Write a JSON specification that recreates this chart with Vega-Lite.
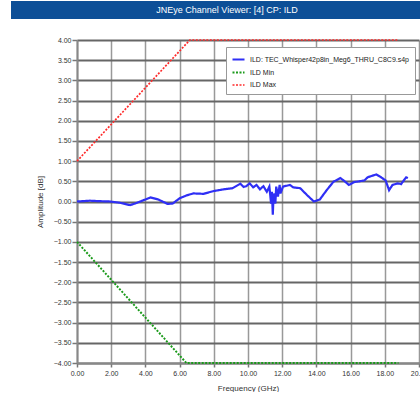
{
  "$schema": "https://vega.github.io/schema/vega-lite/v6.json",
  "padding": {"left": 11, "top": 1, "right": 0, "bottom": 0},
  "background": "white",
  "bounds": "flush",
  "center": true,
  "spacing": 21,
  "config": {
    "font": "Liberation Sans",
    "view": {"stroke": null},
    "axis": {
      "labelFont": "Liberation Sans",
      "titleFont": "Liberation Sans",
      "labelFontSize": 7,
      "titleFontSize": 8,
      "titleFontWeight": "normal",
      "labelColor": "#333",
      "titleColor": "#333",
      "domainColor": "#888",
      "domainWidth": 2,
      "tickColor": "#777",
      "tickWidth": 1.5
    }
  },
  "vconcat": [
    {
      "width": 474,
      "height": 18,
      "view": {"fill": "#0d4f97", "stroke": null},
      "data": {"values": [{"t": "JNEye Channel Viewer: [4] CP: ILD"}]},
      "mark": {"type": "text", "color": "white", "fontSize": 9, "font": "Liberation Sans", "dx": -21, "baseline": "middle"},
      "encoding": {"text": {"field": "t"}}
    },
    {
      "width": 342,
      "height": 323,
      "data": {"values": [
        {"series": "ILD Max", "f": 0, "v": 1},
        {"series": "ILD Max", "f": 6.6, "v": 4},
        {"series": "ILD Max", "f": 18.8, "v": 4},
        {"series": "ILD Min", "f": 0, "v": -1},
        {"series": "ILD Min", "f": 6.4, "v": -4},
        {"series": "ILD Min", "f": 18.8, "v": -4},
        {"series": "ILD: TEC_Whisper42p8in_Meg6_THRU_C8C9.s4p", "f": 0, "v": 0},
        {"series": "ILD: TEC_Whisper42p8in_Meg6_THRU_C8C9.s4p", "f": 0.4, "v": 0.01},
        {"series": "ILD: TEC_Whisper42p8in_Meg6_THRU_C8C9.s4p", "f": 0.76, "v": 0.02},
        {"series": "ILD: TEC_Whisper42p8in_Meg6_THRU_C8C9.s4p", "f": 1.2, "v": 0.01},
        {"series": "ILD: TEC_Whisper42p8in_Meg6_THRU_C8C9.s4p", "f": 1.93, "v": 0.0},
        {"series": "ILD: TEC_Whisper42p8in_Meg6_THRU_C8C9.s4p", "f": 2.5, "v": -0.03},
        {"series": "ILD: TEC_Whisper42p8in_Meg6_THRU_C8C9.s4p", "f": 3.1, "v": -0.09},
        {"series": "ILD: TEC_Whisper42p8in_Meg6_THRU_C8C9.s4p", "f": 3.4, "v": -0.05},
        {"series": "ILD: TEC_Whisper42p8in_Meg6_THRU_C8C9.s4p", "f": 3.7, "v": 0.0},
        {"series": "ILD: TEC_Whisper42p8in_Meg6_THRU_C8C9.s4p", "f": 4.3, "v": 0.1},
        {"series": "ILD: TEC_Whisper42p8in_Meg6_THRU_C8C9.s4p", "f": 4.75, "v": 0.05},
        {"series": "ILD: TEC_Whisper42p8in_Meg6_THRU_C8C9.s4p", "f": 5.3, "v": -0.06},
        {"series": "ILD: TEC_Whisper42p8in_Meg6_THRU_C8C9.s4p", "f": 5.6, "v": -0.05},
        {"series": "ILD: TEC_Whisper42p8in_Meg6_THRU_C8C9.s4p", "f": 6.0, "v": 0.08},
        {"series": "ILD: TEC_Whisper42p8in_Meg6_THRU_C8C9.s4p", "f": 6.4, "v": 0.15},
        {"series": "ILD: TEC_Whisper42p8in_Meg6_THRU_C8C9.s4p", "f": 6.8, "v": 0.2},
        {"series": "ILD: TEC_Whisper42p8in_Meg6_THRU_C8C9.s4p", "f": 7.4, "v": 0.19},
        {"series": "ILD: TEC_Whisper42p8in_Meg6_THRU_C8C9.s4p", "f": 8.0, "v": 0.26},
        {"series": "ILD: TEC_Whisper42p8in_Meg6_THRU_C8C9.s4p", "f": 8.55, "v": 0.3},
        {"series": "ILD: TEC_Whisper42p8in_Meg6_THRU_C8C9.s4p", "f": 9.1, "v": 0.33},
        {"series": "ILD: TEC_Whisper42p8in_Meg6_THRU_C8C9.s4p", "f": 9.55, "v": 0.44},
        {"series": "ILD: TEC_Whisper42p8in_Meg6_THRU_C8C9.s4p", "f": 9.75, "v": 0.36},
        {"series": "ILD: TEC_Whisper42p8in_Meg6_THRU_C8C9.s4p", "f": 9.9, "v": 0.38},
        {"series": "ILD: TEC_Whisper42p8in_Meg6_THRU_C8C9.s4p", "f": 10.1, "v": 0.45},
        {"series": "ILD: TEC_Whisper42p8in_Meg6_THRU_C8C9.s4p", "f": 10.3, "v": 0.35},
        {"series": "ILD: TEC_Whisper42p8in_Meg6_THRU_C8C9.s4p", "f": 10.5, "v": 0.41},
        {"series": "ILD: TEC_Whisper42p8in_Meg6_THRU_C8C9.s4p", "f": 10.7, "v": 0.3},
        {"series": "ILD: TEC_Whisper42p8in_Meg6_THRU_C8C9.s4p", "f": 10.9, "v": 0.38},
        {"series": "ILD: TEC_Whisper42p8in_Meg6_THRU_C8C9.s4p", "f": 11.1, "v": 0.24},
        {"series": "ILD: TEC_Whisper42p8in_Meg6_THRU_C8C9.s4p", "f": 11.25, "v": 0.37},
        {"series": "ILD: TEC_Whisper42p8in_Meg6_THRU_C8C9.s4p", "f": 11.35, "v": -0.05},
        {"series": "ILD: TEC_Whisper42p8in_Meg6_THRU_C8C9.s4p", "f": 11.4, "v": 0.24},
        {"series": "ILD: TEC_Whisper42p8in_Meg6_THRU_C8C9.s4p", "f": 11.45, "v": -0.33},
        {"series": "ILD: TEC_Whisper42p8in_Meg6_THRU_C8C9.s4p", "f": 11.5, "v": 0.2},
        {"series": "ILD: TEC_Whisper42p8in_Meg6_THRU_C8C9.s4p", "f": 11.6, "v": -0.05},
        {"series": "ILD: TEC_Whisper42p8in_Meg6_THRU_C8C9.s4p", "f": 11.65, "v": 0.37},
        {"series": "ILD: TEC_Whisper42p8in_Meg6_THRU_C8C9.s4p", "f": 11.75, "v": 0.12},
        {"series": "ILD: TEC_Whisper42p8in_Meg6_THRU_C8C9.s4p", "f": 11.85, "v": 0.41},
        {"series": "ILD: TEC_Whisper42p8in_Meg6_THRU_C8C9.s4p", "f": 11.9, "v": 0.2},
        {"series": "ILD: TEC_Whisper42p8in_Meg6_THRU_C8C9.s4p", "f": 12.05, "v": 0.37},
        {"series": "ILD: TEC_Whisper42p8in_Meg6_THRU_C8C9.s4p", "f": 12.45, "v": 0.41},
        {"series": "ILD: TEC_Whisper42p8in_Meg6_THRU_C8C9.s4p", "f": 12.65, "v": 0.35},
        {"series": "ILD: TEC_Whisper42p8in_Meg6_THRU_C8C9.s4p", "f": 13.05, "v": 0.33},
        {"series": "ILD: TEC_Whisper42p8in_Meg6_THRU_C8C9.s4p", "f": 13.45, "v": 0.16},
        {"series": "ILD: TEC_Whisper42p8in_Meg6_THRU_C8C9.s4p", "f": 13.85, "v": 0.0},
        {"series": "ILD: TEC_Whisper42p8in_Meg6_THRU_C8C9.s4p", "f": 14.2, "v": 0.05},
        {"series": "ILD: TEC_Whisper42p8in_Meg6_THRU_C8C9.s4p", "f": 14.6, "v": 0.28},
        {"series": "ILD: TEC_Whisper42p8in_Meg6_THRU_C8C9.s4p", "f": 15.0, "v": 0.49},
        {"series": "ILD: TEC_Whisper42p8in_Meg6_THRU_C8C9.s4p", "f": 15.4, "v": 0.58},
        {"series": "ILD: TEC_Whisper42p8in_Meg6_THRU_C8C9.s4p", "f": 15.6, "v": 0.52},
        {"series": "ILD: TEC_Whisper42p8in_Meg6_THRU_C8C9.s4p", "f": 15.9, "v": 0.41},
        {"series": "ILD: TEC_Whisper42p8in_Meg6_THRU_C8C9.s4p", "f": 16.2, "v": 0.48},
        {"series": "ILD: TEC_Whisper42p8in_Meg6_THRU_C8C9.s4p", "f": 16.8, "v": 0.52},
        {"series": "ILD: TEC_Whisper42p8in_Meg6_THRU_C8C9.s4p", "f": 17.0, "v": 0.6},
        {"series": "ILD: TEC_Whisper42p8in_Meg6_THRU_C8C9.s4p", "f": 17.5, "v": 0.67},
        {"series": "ILD: TEC_Whisper42p8in_Meg6_THRU_C8C9.s4p", "f": 17.75, "v": 0.61},
        {"series": "ILD: TEC_Whisper42p8in_Meg6_THRU_C8C9.s4p", "f": 18.05, "v": 0.52},
        {"series": "ILD: TEC_Whisper42p8in_Meg6_THRU_C8C9.s4p", "f": 18.25, "v": 0.28},
        {"series": "ILD: TEC_Whisper42p8in_Meg6_THRU_C8C9.s4p", "f": 18.45, "v": 0.41},
        {"series": "ILD: TEC_Whisper42p8in_Meg6_THRU_C8C9.s4p", "f": 18.75, "v": 0.45},
        {"series": "ILD: TEC_Whisper42p8in_Meg6_THRU_C8C9.s4p", "f": 18.95, "v": 0.43},
        {"series": "ILD: TEC_Whisper42p8in_Meg6_THRU_C8C9.s4p", "f": 19.25, "v": 0.6},
        {"series": "ILD: TEC_Whisper42p8in_Meg6_THRU_C8C9.s4p", "f": 19.35, "v": 0.58}
      ]},
      "mark": {"type": "line", "strokeCap": "butt"},
      "encoding": {
        "x": {
          "field": "f", "type": "quantitative",
          "scale": {"domain": [0, 20], "nice": false, "zero": false},
          "axis": {
            "title": "Frequency (GHz)", "values": [0, 2, 4, 6, 8, 10, 12, 14, 16, 18, 20],
            "format": ".2f", "grid": true, "gridColor": "#999", "gridWidth": 1.5,
            "tickSize": 4, "labelPadding": 2, "titlePadding": 8, "labelFlush": false
          }
        },
        "y": {
          "field": "v", "type": "quantitative",
          "scale": {"domain": [-4, 4], "nice": false, "zero": false},
          "axis": {
            "title": "Amplitude [dB]",
            "values": [-4, -3.5, -3, -2.5, -2, -1.5, -1, -0.5, 0, 0.5, 1, 1.5, 2, 2.5, 3, 3.5, 4],
            "format": ".2f", "grid": true, "gridColor": "#666", "gridWidth": 2,
            "tickSize": 5, "labelPadding": 1, "titlePadding": 9, "labelFlush": false
          }
        },
        "order": {"field": "f", "type": "quantitative"},
        "color": {
          "field": "series", "type": "nominal",
          "scale": {
            "domain": ["ILD: TEC_Whisper42p8in_Meg6_THRU_C8C9.s4p", "ILD Min", "ILD Max"],
            "range": ["#2f2ff5", "#1a9a1a", "#ff2a2a"]
          },
          "legend": {
            "title": null, "orient": "none", "legendX": 215, "legendY": 46,
            "symbolType": "stroke", "symbolSize": 144, "symbolStrokeWidth": 2,
            "labelFont": "Liberation Sans", "labelFontSize": 7, "labelColor": "#222",
            "labelOffset": 4, "rowPadding": 1.5, "padding": 5,
            "strokeColor": "#999", "fillColor": "white", "cornerRadius": 0,
            "labelLimit": 400
          }
        },
        "strokeDash": {
          "field": "series", "type": "nominal",
          "scale": {
            "domain": ["ILD: TEC_Whisper42p8in_Meg6_THRU_C8C9.s4p", "ILD Min", "ILD Max"],
            "range": [[1, 0], [2, 1.5], [2, 1.5]]
          }
        },
        "strokeWidth": {
          "field": "series", "type": "nominal",
          "scale": {
            "domain": ["ILD: TEC_Whisper42p8in_Meg6_THRU_C8C9.s4p", "ILD Min", "ILD Max"],
            "range": [2.2, 1.7, 1.7]
          },
          "legend": null
        }
      }
    }
  ]
}
